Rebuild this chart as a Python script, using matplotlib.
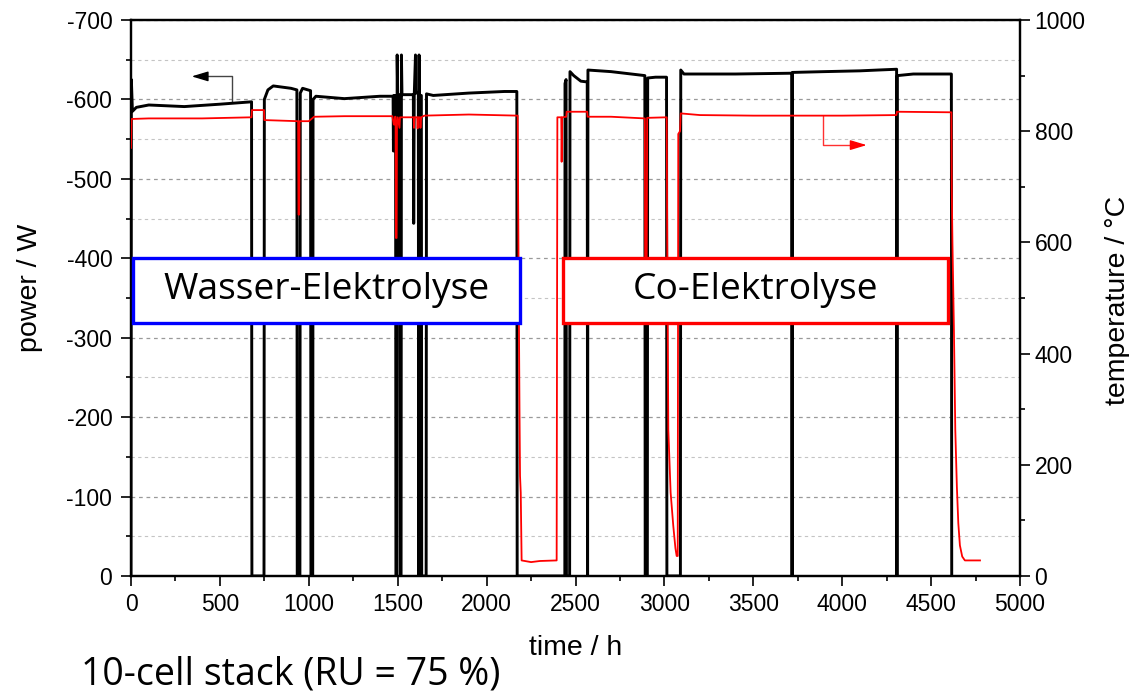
import numpy as np
import matplotlib
matplotlib.use('Agg')
import matplotlib.pyplot as plt
from matplotlib.patches import Rectangle
from matplotlib.ticker import MultipleLocator

plt.rcParams['font.family'] = ['Liberation Sans', 'DejaVu Sans']
plt.rcParams['axes.unicode_minus'] = False

# ------------------------------------------------------------------
# Data (time in h)
# ------------------------------------------------------------------

# stack power / W (black)
t_power = [0, 2, 8, 30, 100, 300, 500, 678, 680, 748, 750, 770, 800, 900, 933, 935, 950,
           952, 965, 1010, 1012, 1022, 1024, 1040, 1200, 1400, 1474, 1476, 1478, 1488,
           1490, 1495, 1497, 1500, 1512, 1514, 1519, 1521, 1524, 1588, 1590, 1593, 1600,
           1603, 1616, 1618, 1620, 1623, 1633, 1635, 1660, 1662, 1700, 1900, 2100, 2170,
           2172, 2440, 2441, 2447, 2449, 2467, 2469, 2490, 2530, 2566, 2568, 2570, 2700,
           2890, 2892, 2904, 2906, 2950, 3012, 3014, 3090, 3092, 3110, 3400, 3716, 3718,
           3720, 3900, 4100, 4200, 4306, 4308, 4310, 4400, 4614, 4616]
power = [0, -625, -585, -590, -593, -591, -594, -597, 0, 0, -600, -612, -617, -614, -612, 0, 0,
         -608, -614, -611, 0, 0, -600, -604, -601, -604, -604, -535, -605, -605,
         0, 0, -656, -605, -606, 0, 0, -656, -606, -606, -444, -605, -656,
         -608, -608, 0, -656, -605, -605, 0, 0, -607, -605, -608, -610, -610,
         0, 0, -620, -625, 0, 0, -635, -630, -623, -622, 0, -637, -635,
         -630, 0, 0, -627, -628, -628, 0, 0, -637, -632, -632, -633, 0,
         -634, -635, -636, -637, -638, 0, -630, -632, -632, 0]

# stack temperature / degC (red)
t_temp = [0, 3, 100, 400, 678, 680, 748, 750, 940, 942, 946, 948, 1000, 1030, 1200, 1470,
          1478, 1482, 1485, 1488, 1490, 1494, 1496, 1500, 1510, 1513, 1590, 1592, 1595,
          1610, 1612, 1615, 1625, 1628, 1632, 1650, 1900, 2175, 2177, 2185, 2188, 2192,
          2197, 2250, 2300, 2394, 2398, 2420, 2422, 2425, 2448, 2450, 2566, 2568, 2700,
          2890, 2892, 2900, 2903, 3013, 3016, 3022, 3035, 3050, 3062, 3069, 3075, 3078,
          3088, 3092, 3200, 3500, 4000, 4305, 4308, 4614, 4616, 4620, 4628, 4636, 4645,
          4653, 4662, 4675, 4690, 4775]
temp = [770, 822, 823, 823, 825, 838, 838, 820, 818, 650, 650, 818, 818, 826, 827, 827,
        812, 812, 826, 826, 608, 608, 812, 825, 806, 825, 825, 806, 825,
        825, 805, 825, 825, 806, 825, 828, 830, 828, 700, 300, 180, 150,
        28, 25, 27, 28, 825, 825, 745, 825, 826, 835, 835, 826, 826,
        823, 520, 520, 824, 825, 600, 263, 150, 90, 50, 36, 36, 795,
        800, 832, 829, 828, 828, 829, 835, 834, 700, 600, 450, 263, 160,
        95, 55, 35, 28, 28]

# text
box_labels = ['Wasser-Elektrolyse', 'Co-Elektrolyse']
box_t = [(11, 2188), (2430, 4595)]
box_colors = ['#0000ff', '#ff0000']

# ------------------------------------------------------------------
fig = plt.figure(figsize=(11.29, 6.92), dpi=100)
ax = fig.add_axes([131 / 1129, 116 / 692, 889 / 1129, 556 / 692])
ax2 = ax.twinx()

ax.plot(t_power, power, color='black', lw=2.1, zorder=3)
ax2.plot(t_temp, temp, color='#ff0000', lw=1.3, zorder=3)

ax.set_xlim(0, 5000)
ax.set_ylim(0, -700)
ax2.set_ylim(0, 1000)

ax.xaxis.set_major_locator(MultipleLocator(500))
ax.xaxis.set_minor_locator(MultipleLocator(250))
ax.yaxis.set_major_locator(MultipleLocator(100))
ax.yaxis.set_minor_locator(MultipleLocator(50))
ax2.yaxis.set_major_locator(MultipleLocator(200))
ax2.yaxis.set_minor_locator(MultipleLocator(100))

for a in (ax, ax2):
    a.tick_params(which='major', direction='out', length=7, width=1.2, labelsize=16.5)
    a.tick_params(which='minor', direction='out', length=3.6, width=1.2)
    for s in a.spines.values():
        s.set_linewidth(1.6)
ax.tick_params(axis='x', which='major', pad=5)
ax.tick_params(axis='y', which='major', pad=6.5)

# horizontal grid
ax.yaxis.grid(True, which='major', color='#9a9a9a', ls=(0, (3, 3)), lw=0.9)
ax.yaxis.grid(True, which='minor', color='#c4c4c4', ls=(0, (3, 3)), lw=0.8)
ax.set_axisbelow(True)

# arrows pointing to the axes
ax.plot([566, 566, 400], [-597, -629, -629], color='#444444', lw=1)
ax.annotate('', xy=(341, -629), xytext=(420, -629),
            arrowprops=dict(arrowstyle='-|>,head_length=1.0,head_width=0.3',
                            color='black', lw=1, shrinkA=0, shrinkB=0))
ax2.plot([3894, 3894, 4080], [827, 775, 775], color='#ff3030', lw=1)
ax2.annotate('', xy=(4138, 775), xytext=(4060, 775),
             arrowprops=dict(arrowstyle='-|>,head_length=1.0,head_width=0.3',
                             color='#ff0000', lw=1, shrinkA=0, shrinkB=0))

# boxes
for label, (t0, t1), c in zip(box_labels, box_t, box_colors):
    rect = Rectangle((t0, -400.5), t1 - t0, 82, transform=ax.transData,
                     facecolor='white', edgecolor=c, lw=2.4, zorder=10)
    ax2.add_patch(rect)
    ax2.text(0.5 * (t0 + t1), -360, label, transform=ax.transData,
             ha='center', va='center', fontsize=26.8, family=['Open Sans', 'DejaVu Sans'],
             zorder=11)

fig.text(30 / 1129, 1 - 288 / 692, 'power / W', rotation=90, ha='center', va='center',
         fontsize=20.5)
fig.text(1118 / 1129, 1 - 300 / 692, 'temperature / \u00b0C', rotation=90, ha='center',
         va='center', fontsize=20.5)
fig.text(576 / 1129, 1 - 648 / 692, 'time / h', ha='center', va='center', fontsize=20.5)
fig.text(291 / 1129, 1 - 674 / 692, '10-cell stack (RU = 75 %)', ha='center', va='center',
         fontsize=27, family=['Open Sans', 'DejaVu Sans'])

plt.savefig('out.png', dpi=100, facecolor='w')
plt.close()
